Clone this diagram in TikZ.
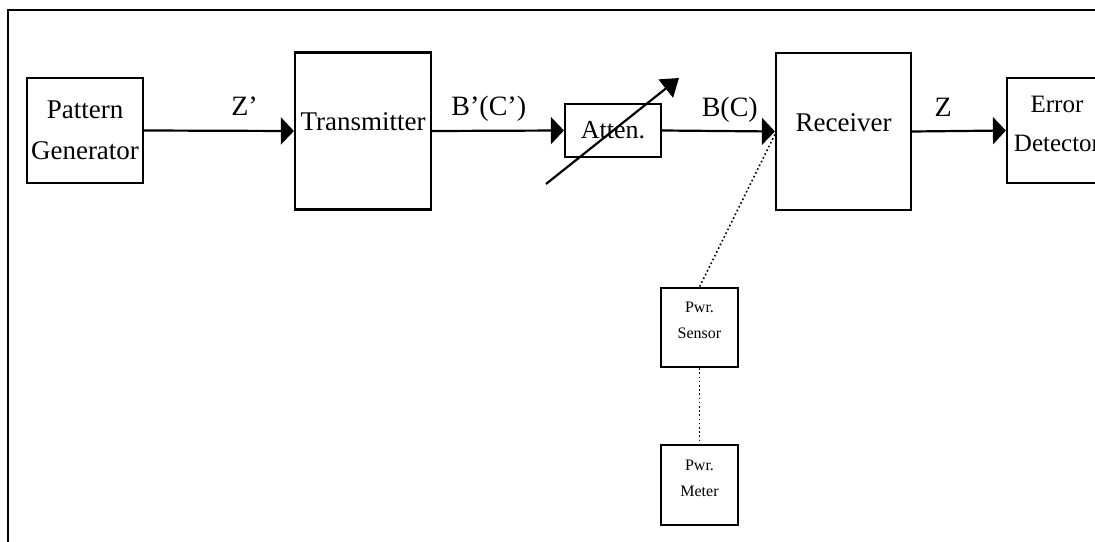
\documentclass[tikz,border=0pt]{standalone}
\usepackage{fontspec}
\setmainfont{Liberation Serif}
\usetikzlibrary{arrows.meta}

\begin{document}
\begin{tikzpicture}[
  x=1pt, y=-1pt,
  line width=2.2pt,
  every node/.style={align=center, inner sep=0pt},
  block/.style={draw, font=\fontsize{27}{41}\selectfont},
  unit/.style={block, minimum width=136pt, minimum height=157pt, text depth=18pt},
  meterbox/.style={draw, minimum width=77pt, minimum height=79pt, text depth=14pt, font=\fontsize{16}{26}\selectfont},
  flow/.style={-{Triangle[length=13pt,width=27pt]}},
  tap/.style={line width=1.6pt, dash pattern=on 1.6pt off 2.6pt},
  sig/.style={anchor=base, yshift=15pt, font=\fontsize{28}{34}\selectfont}
]
\useasboundingbox (0,0) rectangle (1095,541);
\clip (0,0) rectangle (1095,541);
\draw (8,10) rectangle (1200,700);

\node[block, minimum width=116pt, minimum height=105pt] (pg) at (85,130.5) {Pattern\\Generator};
\node[unit] (tx) at (363,131) {Transmitter};
\node[block, font=\fontsize{26}{32}\selectfont, minimum width=96pt, minimum height=53pt] (att) at (613,130.5) {Atten.};
\node[unit, minimum width=135pt] (rx) at (843.5,131.5) {Receiver};
\node[block, font=\fontsize{25}{39}\selectfont, minimum width=100pt, minimum height=105pt, text depth=14pt] (ed) at (1057,130.5) {Error\\Detector};
\node[meterbox] (ps) at (699.5,327.5) {Pwr.\\Sensor};
\node[meterbox, minimum height=80pt] (pm) at (699.5,485) {Pwr.\\Meter};

\draw[flow] (pg.east) -- node[sig, pos=0.67] (lzp) {Z'} (tx.west);
\draw[flow] (tx.east) -- node[sig, pos=0.43] (lbp) {B'(C')} (att.west);
\draw[flow] (att.east) -- node[sig, pos=0.6] (lb) {B(C)} (rx.west);
\draw[flow] (rx.east) -- node[sig, pos=0.33] (lz) {Z} (ed.west);

\coordinate (attlo) at ([shift={(-67,53.5)}]att.center);
\coordinate (atthi) at ([shift={(66,-52.5)}]att.center);
\draw[-{Triangle[length=17pt,width=23pt]}] (attlo) -- (atthi);

\draw[tap] ([yshift=-3pt]rx.west) -- (ps.north);
\draw[tap] (ps.south) -- (pm.north);
\end{tikzpicture}
\end{document}
